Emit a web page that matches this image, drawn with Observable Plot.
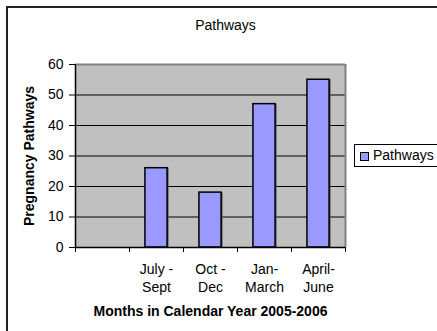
<!DOCTYPE html>
<html>
<head>
<meta charset="utf-8">
<script src="https://cdn.jsdelivr.net/npm/d3@7"></script>
<script src="https://cdn.jsdelivr.net/npm/@observablehq/plot@0.6"></script>
<style>
  html, body { margin: 0; padding: 0; background: #fff; overflow: hidden; }
  #wrap { position: relative; width: 437px; height: 331px; overflow: hidden; font-family: "Liberation Sans", Arial, sans-serif; }
  #border { position: absolute; left: 6px; top: 6px; width: 500px; height: 400px; border: 2px solid #222; box-sizing: border-box; }
  #chart { position: absolute; left: 0; top: 0; }
  #legend { position: absolute; left: 354px; top: 144px; width: 120px; height: 23px; border: 1px solid #000; background: #fff; box-sizing: border-box; font-size: 14px; }
  #legend .sw { position: absolute; left: 5px; top: 7px; width: 9px; height: 9px; border: 1px solid #000; background: #9999ff; box-sizing: border-box; }
  #legend .lb { position: absolute; left: 18px; top: 2px; line-height: 17px; color: #000; }
</style>
</head>
<body>
<div id="wrap">
  <div id="border"></div>
  <div id="chart"></div>
  <div id="legend"></div>
</div>
<script>
const chartTitle = "Pathways";
const seriesName = "Pathways";
const xTitle = "Months in Calendar Year 2005-2006";
const yTitle = "Pregnancy Pathways";
const categories = ["", "July -\nSept", "Oct -\nDec", "Jan-\nMarch", "April-\nJune"];
const values = [null, 26, 18, 47, 55];
const yTicks = [0, 10, 20, 30, 40, 50, 60];
const gridValues = [10, 20, 30, 40, 50];

const data = categories.map((c, i) => ({i, c, v: values[i]}));
const bars = data.filter(d => d.v != null);
const boundaries = d3.range(categories.length + 1);
const inset = 0.295;

const chart = Plot.plot({
  width: 437,
  height: 331,
  marginLeft: 75,
  marginRight: 92,
  marginTop: 64,
  marginBottom: 84,
  style: {fontFamily: "'Liberation Sans', Arial, sans-serif", fontSize: "14px", color: "#000", background: "transparent", overflow: "visible"},
  x: {type: "linear", domain: [0, categories.length]},
  y: {domain: [0, 60]},
  marks: [
    Plot.frame({fill: "#c0c0c0", stroke: null}),
    Plot.ruleY(gridValues, {stroke: "#000", strokeWidth: 1}),
    Plot.ruleY([60], {stroke: "#808080", strokeWidth: 2}),
    Plot.ruleX([categories.length], {stroke: "#808080", strokeWidth: 2}),
    Plot.rectY(bars, {x1: d => d.i + inset, x2: d => d.i + 1 - inset, y1: 0, y2: "v", fill: "#555", dx: 1.5, dy: 0}),
    Plot.rectY(bars, {x1: d => d.i + inset, x2: d => d.i + 1 - inset, y1: 0, y2: "v", fill: "#9999ff", stroke: "#000", strokeWidth: 1.5}),
    Plot.ruleX([0], {stroke: "#000", strokeWidth: 1.5}),
    Plot.ruleY([0], {stroke: "#000", strokeWidth: 1.5}),
    Plot.axisY({ticks: yTicks, tickSize: 6, tickPadding: 6, label: null, fontSize: 14}),
    Plot.axisX({ticks: boundaries, tickSize: 5, tickFormat: () => "", label: null}),
    Plot.text(data, {x: d => d.i + 0.5, y: 0, text: "c", lineAnchor: "top", dy: 14, lineHeight: 1.27, fontSize: 14}),
    Plot.text([xTitle], {frameAnchor: "bottom", textAnchor: "middle", lineAnchor: "middle", dy: 64, fontWeight: "bold", fontSize: 14}),
    Plot.text([yTitle], {frameAnchor: "left", textAnchor: "middle", lineAnchor: "middle", dx: -46, rotate: -90, fontWeight: "bold", fontSize: 14}),
    Plot.text([chartTitle], {frameAnchor: "top", textAnchor: "middle", lineAnchor: "middle", dx: 15, dy: -39, fontSize: 14})
  ]
});
document.getElementById("chart").appendChild(chart);

const legend = document.getElementById("legend");
legend.innerHTML = `<div class="sw"></div><div class="lb"></div>`;
legend.querySelector(".lb").textContent = seriesName;
</script>
</body>
</html>
